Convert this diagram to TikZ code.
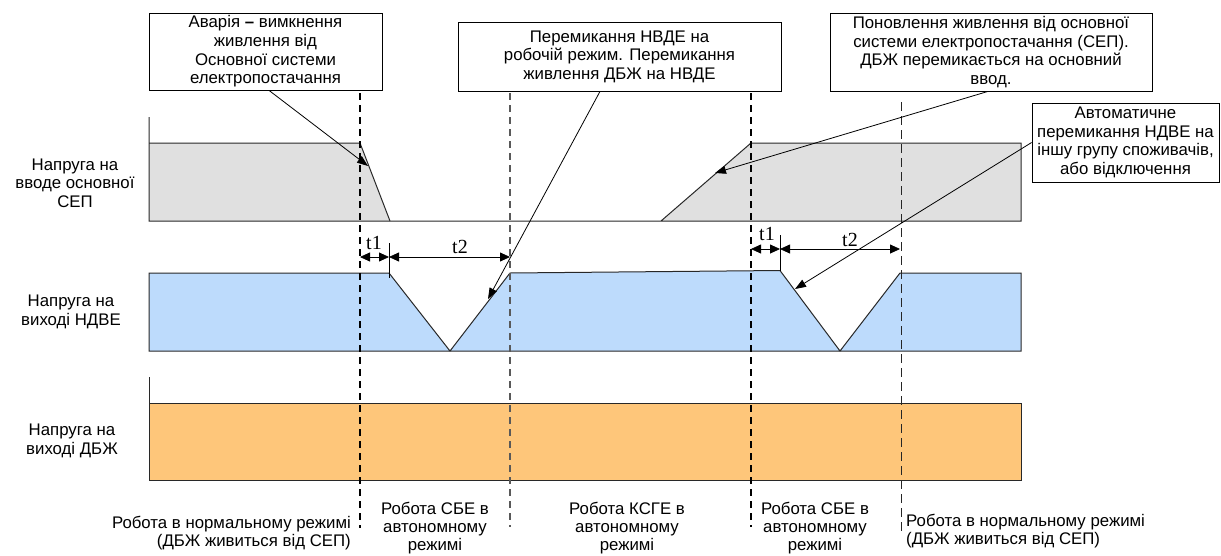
\documentclass[tikz,border=0pt]{standalone}
\usepackage{fontspec}
\setmainfont{Liberation Sans}
\newfontfamily\tfont{Liberation Serif}
\usetikzlibrary{arrows.meta}
\definecolor{grayband}{RGB}{224,224,224}
\definecolor{blueband}{RGB}{189,219,252}
\definecolor{orangeband}{RGB}{254,198,122}
\definecolor{edge}{RGB}{40,40,40}
\begin{document}
\begin{tikzpicture}[x=1pt,y=-1pt,
  txt/.style={font=\fontsize{16.8}{18.3}\selectfont, align=center, inner sep=0pt},
  callout/.style={draw=black, line width=0.8pt, fill=white, align=center, inner sep=2pt,
    font=\fontsize{16.8}{18.6}\selectfont},
  band/.style={draw=edge, line width=1pt, line join=miter},
  vdash/.style={line width=1.3pt, dash pattern=on 7pt off 5pt},
  pointer/.style={line width=0.8pt, -{Triangle[length=11pt,width=8pt]}},
  dim/.style={line width=0.8pt, {Triangle[length=10pt,width=9pt]}-{Triangle[length=10pt,width=9pt]}},
  tlab/.style={font=\tfont\fontsize{20}{20}\selectfont, inner sep=0pt}]
\useasboundingbox (0,0) rectangle (1221,555);

% bands
\fill[grayband] (149,143) -- (360,143) -- (390,221) -- (149,221) -- cycle;
\fill[grayband] (661,221) -- (751,143) -- (1021,143) -- (1021,221) -- cycle;
\draw[band] (149,117) -- (149,221) -- (1021,221) -- (1021,143) -- (751,143) -- (661,221);
\draw[band] (149,143) -- (360,143) -- (390,221);

\draw[band, fill=blueband] (149,273) -- (389,273) -- (450,351) -- (510,273) -- (780,270.5)
  -- (840,351) -- (900,273) -- (1021,273) -- (1021,351) -- (149,351) -- cycle;

\draw[band, fill=orangeband] (149,403) rectangle (1021,480);
\draw[band] (149,377) -- (149,403);

% dashed time lines
\draw[vdash, black] (360,93) -- (360,528);
\draw[vdash, black!65] (510,93) -- (510,527);
\draw[vdash, black] (751,93) -- (751,527);
\draw[line width=0.9pt, dash pattern=on 9pt off 5pt, black!85] (901,102) -- (901,533);

% ticks
\draw[line width=0.8pt] (389,243) -- (389,278);
\draw[line width=0.8pt] (780,235) -- (780,271);

% dimension coordinates
\coordinate (a0) at (360,257);
\coordinate (a1) at (389,257);
\coordinate (a2) at (510,257);
\coordinate (b0) at (751,249);
\coordinate (b1) at (780,249);
\coordinate (b2) at (900,249);
\draw[dim] (a0) -- (a1);
\draw[dim] (a1) -- (a2);
\draw[dim] (b0) -- (b1);
\draw[dim] (b1) -- (b2);
\node[tlab] (t1a) at (374,243) {t1};
\node[tlab] (t2a) at (460,247) {t2};
\node[tlab] (t1b) at (767,234) {t1};
\node[tlab] (t2b) at (850,240) {t2};

% row labels
\node[txt] (r1) at (75,183) {Напруга на\\вводе основної\\СЕП};
\node[txt] (r2) at (71,312) {Напруга на\\виході НДВЕ};
\node[txt] (r3) at (72,441) {Напруга на\\виході ДБЖ};

% bottom labels
\node[txt, anchor=east, align=right] (m1) at (351,533) {Робота в нормальному режимі\\(ДБЖ живиться від СЕП)};
\node[txt] (m2) at (435,528) {Робота СБЕ в\\автономному\\режимі};
\node[txt] (m3) at (627,528) {Робота КСГЕ в\\автономному\\режимі};
\node[txt] (m4) at (815,528) {Робота СБЕ в\\автономному\\режимі};
\node[txt, anchor=west, align=left] (m5) at (906,531) {Робота в нормальному режимі\\(ДБЖ живиться від СЕП)};

% callout boxes
\node[callout, minimum width=233pt, minimum height=77pt] (c1) at (265.5,51.5)
  {Аварія \textbf{–} вимкнення\\живлення від\\Основної системи\\електропостачання};
\node[callout, minimum width=323pt, minimum height=69pt] (c2) at (619.5,56.5)
  {Перемикання НВДЕ на\\робочій режим. Перемикання\\живлення ДБЖ на НВДЕ};
\node[callout, minimum width=322pt, minimum height=78pt] (c3) at (991,52)
  {Поновлення живлення від основної\\системи електропостачання (СЕП).\\ДБЖ перемикається на основний\\ввод.};
\node[callout, minimum width=187pt, minimum height=79pt] (c4) at (1125.5,142.5)
  {Автоматичне\\перемикання НДВЕ на\\іншу групу споживачів,\\або відключення};

% pointer targets
\coordinate (p1) at (368,166);
\coordinate (p2) at (488,299);
\coordinate (p3) at (715,173);
\coordinate (p4) at (795,289);
\draw[pointer] ([xshift=3.5pt]c1.south) -- (p1);
\draw[pointer] ([xshift=-19.5pt]c2.south) -- (p2);
\draw[pointer] ([xshift=-3pt]c3.south) -- (p3);
\draw[pointer] (c4.west) -- (p4);
\end{tikzpicture}
\end{document}
